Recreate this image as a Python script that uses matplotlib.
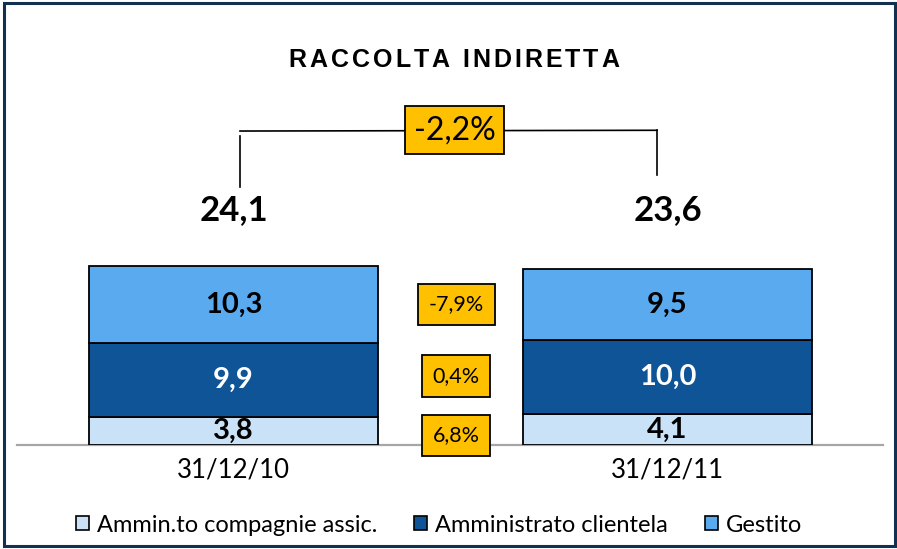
import matplotlib
matplotlib.use("Agg")
import matplotlib.pyplot as plt
from matplotlib.patches import Rectangle, Patch

# ---- data ----
categories = ["31/12/10", "31/12/11"]
series_names = ["Ammin.to compagnie assic.", "Amministrato clientela", "Gestito"]
ammin_compagnie = [3.8, 4.1]
amministrato_clientela = [9.9, 10.0]
gestito = [10.3, 9.5]
total_labels = ["24,1", "23,6"]
total_change = "-2,2%"
series_changes = ["6,8%", "0,4%", "-7,9%"]   # bottom, middle, top
chart_title = "RACCOLTA INDIRETTA"

# ---- style ----
colors = ["#C9E2F8", "#0F5496", "#5AAAF0"]
text_colors = ["black", "white", "black"]
orange = "#FFC000"
FONT = "Lato"

W, H = 897, 549
fig = plt.figure(figsize=(W / 100, H / 100), dpi=100)

# outer frame
fig.patches.append(Rectangle((4 / W, 3 / H), 891 / W, 543 / H, transform=fig.transFigure,
                             fill=False, edgecolor="#13304F", linewidth=2.2))

ax = fig.add_axes([17 / W, (H - 445) / H, 866 / W, 445 / H])
ax.set_xlim(-0.4988, 1.4965)
ax.set_ylim(0, 59.67)
for s in ["top", "right", "left"]:
    ax.spines[s].set_visible(False)
ax.spines["bottom"].set_color("#A6A6A6")
ax.spines["bottom"].set_linewidth(1.6)
ax.set_yticks([])

x = [0, 1]
width = 0.666
series = [ammin_compagnie, amministrato_clientela, gestito]
bottom = [0.0, 0.0]
for vals, c, tc, name in zip(series, colors, text_colors, series_names):
    ax.bar(x, vals, width, bottom=bottom, color=c, edgecolor="black", linewidth=1.3,
           label=name, zorder=3)
    for xi, v, b in zip(x, vals, bottom):
        ax.text(xi, b + v / 2, f"{v:.1f}".replace(".", ","), ha="center", va="center",
                fontsize=21, fontweight="bold", color=tc, family=FONT, zorder=4)
    bottom = [b + v for b, v in zip(bottom, vals)]

ax.set_xticks(x, categories)
ax.tick_params(axis="x", length=0, pad=9, labelsize=18.5)
for lbl in ax.get_xticklabels():
    lbl.set_family(FONT)

# totals above bars
for xi, t in zip(x, total_labels):
    ax.text(xi, 31.5, t, ha="center", va="center", fontsize=25, fontweight="bold",
            family=FONT, clip_on=False)

# bracket with overall change
lx, rx = 0.015, 0.976
ax.plot([lx, lx], [34.6, 41.4], color="black", lw=1.2, clip_on=False)
ax.plot([lx, rx], [42.1, 42.2], color="black", lw=1.2, clip_on=False)
ax.plot([rx, rx], [42.2, 36.2], color="black", lw=1.2, clip_on=False)
ax.text(0.509, 42.2, total_change, ha="center", va="center", fontsize=23, family=FONT,
        bbox=dict(boxstyle="square,pad=0.28", facecolor=orange, edgecolor="black", lw=1.3),
        clip_on=False, zorder=5)

# per-series change boxes
box_y = [1.27, 9.25, 18.84]
for y, t in zip(box_y, series_changes):
    ax.text(0.513, y, t, ha="center", va="center", fontsize=15.5, family=FONT,
            bbox=dict(boxstyle="square,pad=0.5", facecolor=orange, edgecolor="black", lw=1.3),
            zorder=5)

# title with letter spacing (drawn char by char)
fig.canvas.draw()
renderer = fig.canvas.get_renderer()
title_size = 18
tracking = 3.0  # px between letters
widths = []
for ch in chart_title:
    t = fig.text(0, 0, ch if ch != " " else "n", fontsize=title_size, fontweight="bold",
                 family="Liberation Sans")
    w = t.get_window_extent(renderer).width
    if ch == " ":
        w *= 0.45
    widths.append(w)
    t.remove()
total_w = sum(widths) + tracking * (len(chart_title) - 1)
cx = 454.0
x0 = cx - total_w / 2
for ch, w in zip(chart_title, widths):
    if ch != " ":
        fig.text(x0 / W, 1 - 60 / H, ch, ha="left", va="center", fontsize=title_size,
                 fontweight="bold", family="Liberation Sans")
    x0 += w + tracking

handles = [Patch(facecolor=c, edgecolor="black", linewidth=1.2) for c in colors]
fig.legend(handles, series_names, loc="center", bbox_to_anchor=(439 / W, 1 - 525 / H),
           ncol=3, frameon=False, prop={"family": FONT, "size": 17},
           handlelength=0.55, handleheight=0.55, handletextpad=0.35, columnspacing=1.55)

fig.savefig("out.png", dpi=100)
